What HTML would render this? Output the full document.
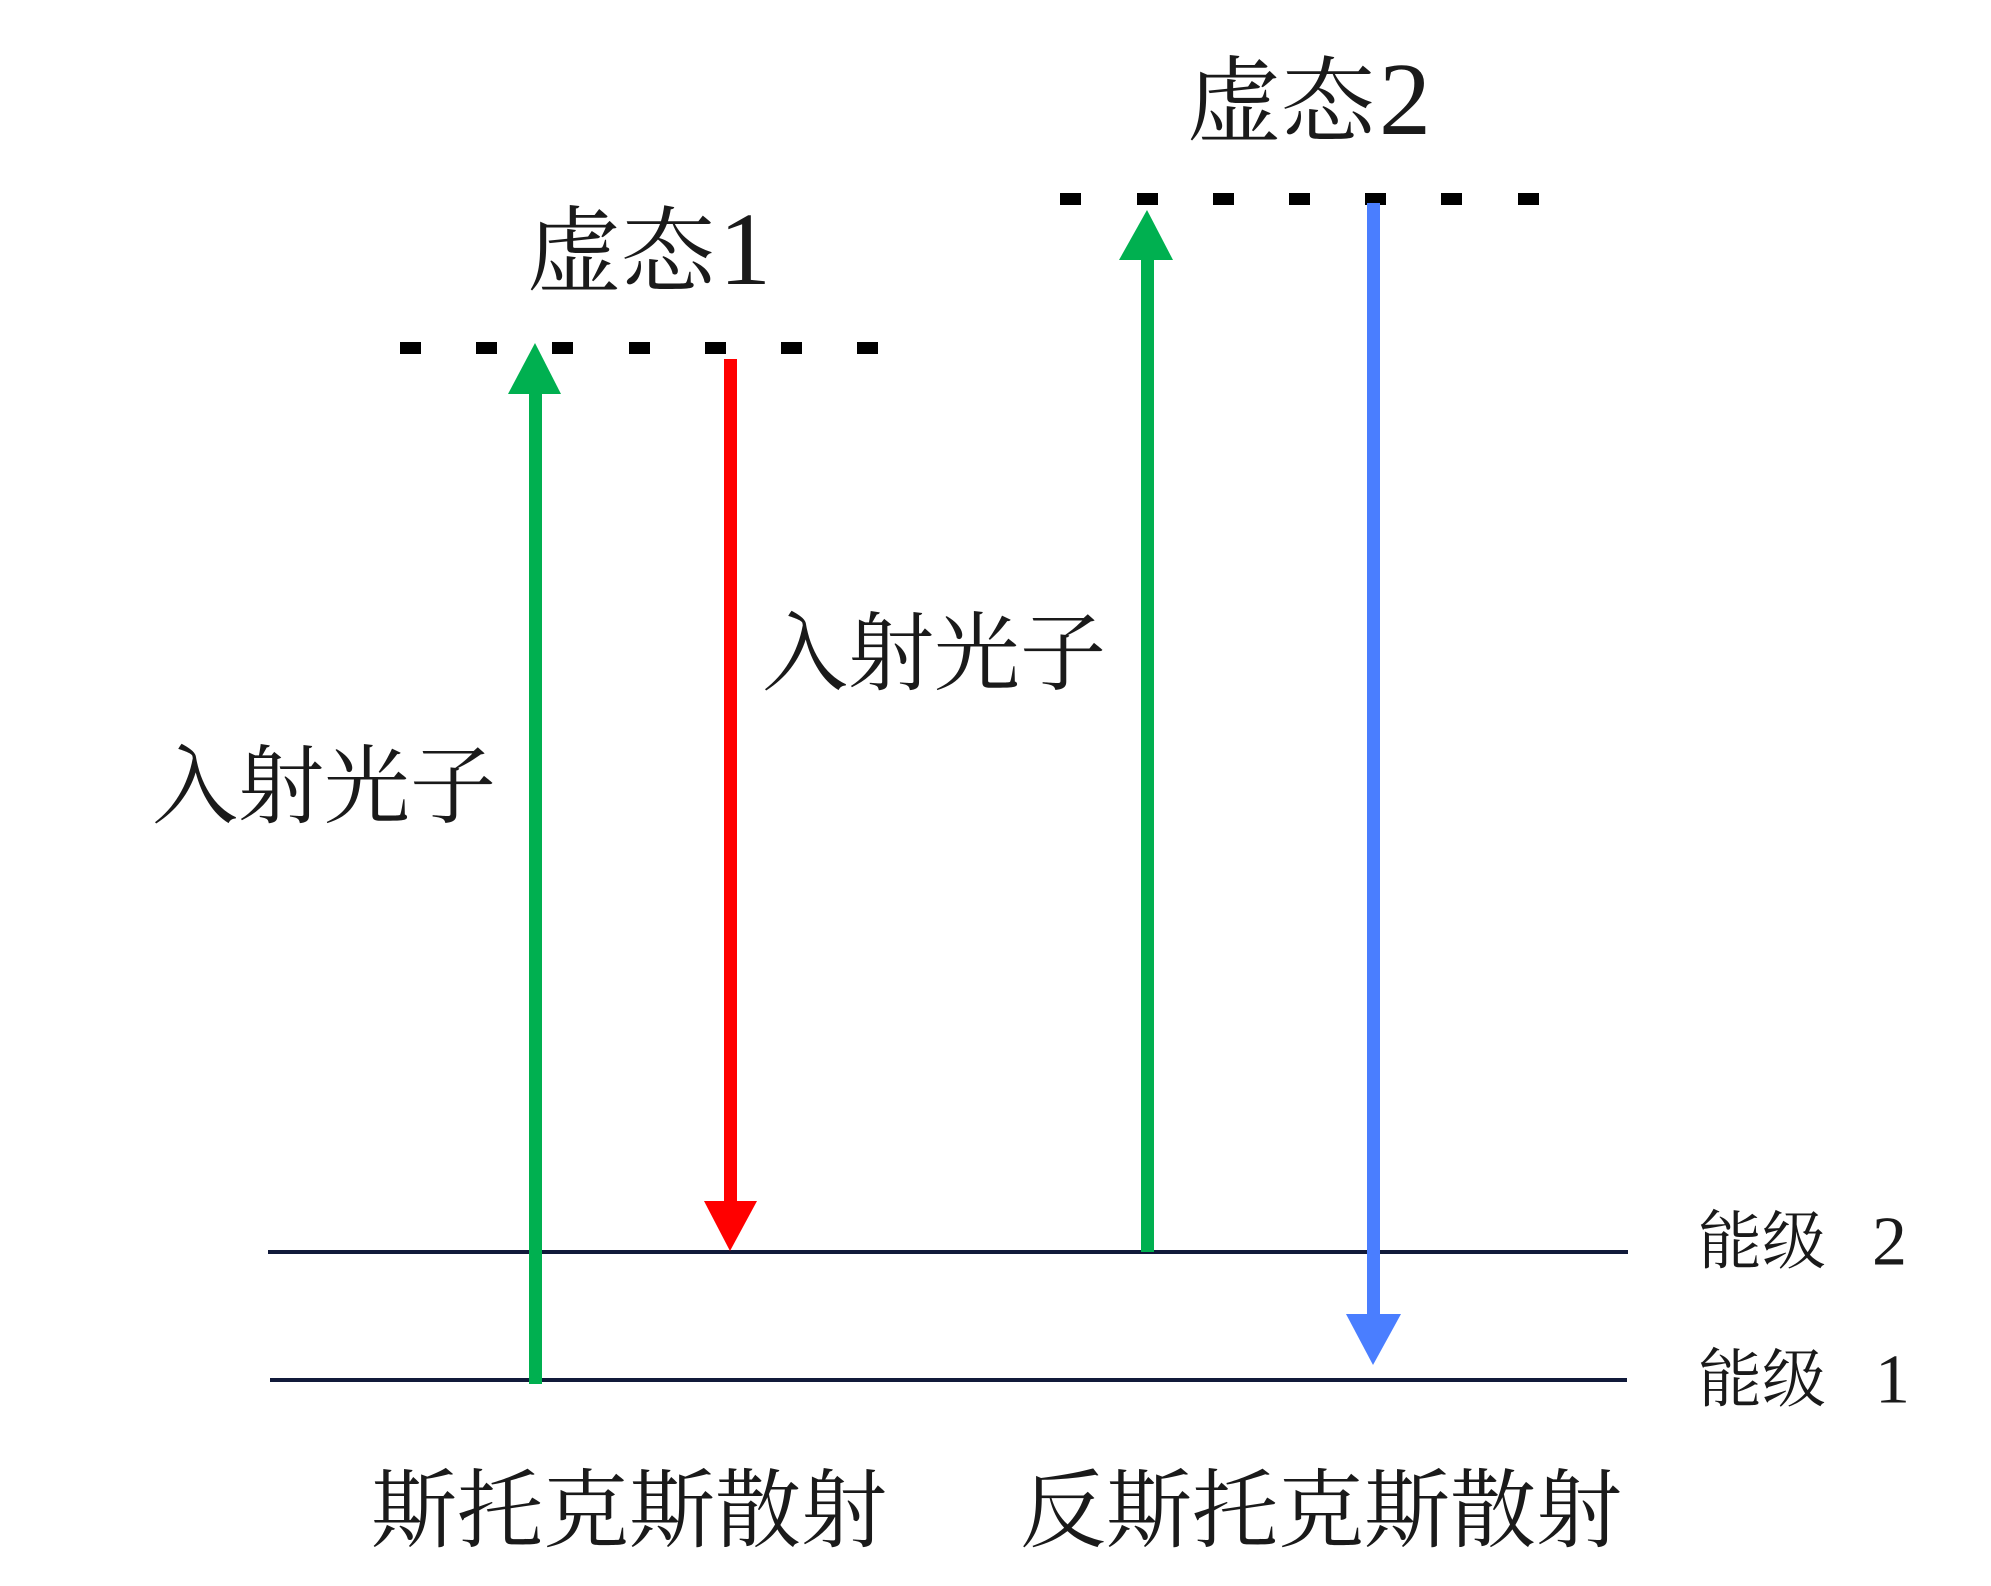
<!DOCTYPE html>
<html><head><meta charset="utf-8"><style>
html,body{margin:0;padding:0;background:#fff;}
svg{display:block;}
text{font-family:"Liberation Serif","Noto Serif CJK SC",serif;fill:#1a1a1a;}
</style></head><body>
<svg width="1991" height="1586" viewBox="0 0 1991 1586" xmlns="http://www.w3.org/2000/svg">
<line x1="268" y1="1252" x2="1628" y2="1252" stroke="#111a3a" stroke-width="4"/>
<line x1="270" y1="1380" x2="1627" y2="1380" stroke="#111a3a" stroke-width="4"/>
<g fill="#000">
<rect x="400" y="342" width="21" height="12"/>
<rect x="476" y="342" width="21" height="12"/>
<rect x="552" y="342" width="21" height="12"/>
<rect x="629" y="342" width="21" height="12"/>
<rect x="705" y="342" width="21" height="12"/>
<rect x="781" y="342" width="21" height="12"/>
<rect x="857" y="342" width="21" height="12"/>
<rect x="1060" y="193" width="21" height="12"/>
<rect x="1137" y="193" width="21" height="12"/>
<rect x="1213" y="193" width="21" height="12"/>
<rect x="1289" y="193" width="21" height="12"/>
<rect x="1365" y="193" width="21" height="12"/>
<rect x="1441" y="193" width="21" height="12"/>
<rect x="1518" y="193" width="21" height="12"/>
</g>
<rect x="529" y="390" width="13" height="994" fill="#00b050"/>
<polygon points="508,394 561,394 535,343" fill="#00b050"/>
<rect x="724" y="359" width="13" height="846" fill="#ff0000"/>
<polygon points="704,1201 757,1201 730,1251" fill="#ff0000"/>
<rect x="1141" y="256" width="13" height="996" fill="#00b050"/>
<polygon points="1119,260 1173,260 1147,210" fill="#00b050"/>
<rect x="1367" y="203" width="13" height="1115" fill="#4a7eff"/>
<polygon points="1346,1314 1401,1314 1373,1365" fill="#4a7eff"/>
<text x="527" y="284" font-size="94">虚态<tspan font-size="104" dx="4">1</tspan></text>
<text x="1187" y="134" font-size="94">虚态<tspan font-size="104" dx="4">2</tspan></text>
<text x="152" y="787" font-size="86" dominant-baseline="central">入射光子</text>
<text x="762" y="654" font-size="86" dominant-baseline="central">入射光子</text>
<text x="1698" y="1242" font-size="64" dominant-baseline="central">能级</text>
<text x="1872" y="1242" font-size="70" dominant-baseline="central">2</text>
<text x="1698" y="1380" font-size="64" dominant-baseline="central">能级</text>
<text x="1875" y="1380" font-size="70" dominant-baseline="central">1</text>
<text x="371" y="1511" font-size="86" dominant-baseline="central">斯托克斯散射</text>
<text x="1020" y="1511" font-size="86" dominant-baseline="central">反斯托克斯散射</text>
</svg>
</body></html>
